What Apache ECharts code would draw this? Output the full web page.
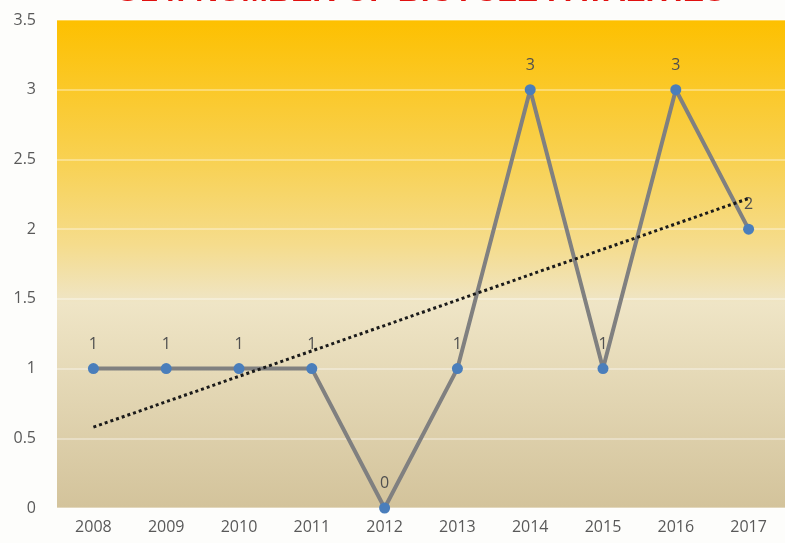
<!DOCTYPE html>
<html>
<head>
<meta charset="utf-8">
<title>Bicycle fatalities</title>
<script src="https://cdn.jsdelivr.net/npm/echarts@6/dist/echarts.min.js"></script>
</head>
<body style="margin:0;background:#fdfdfb;">
<div id="main" style="width:785px;height:543px;"></div>
<script>
    // data
    var years = ['2008', '2009', '2010', '2011', '2012', '2013', '2014', '2015', '2016', '2017'];
    var fatalities = [1, 1, 1, 1, 0, 1, 3, 1, 3, 2];
    // linear trend, only the two ends are drawn
    var trend = [0.58, null, null, null, null, null, null, null, null, 2.22];

    var labelColor = '#595959';
    var myChart = echarts.init(document.getElementById('main'));
    myChart.setOption({
        backgroundColor: '#fdfdfb',
        title: {
            text: 'G14: NUMBER OF BICYCLE FATALITIES',
            left: 110,
            top: -29,
            textStyle: {
                color: '#e0100f',
                fontSize: 32,
                fontWeight: 'bold',
                fontFamily: 'Liberation Sans'
            }
        },
        grid: {
            left: 57,
            top: 20,
            width: 734,
            height: 488,
            show: true,
            borderWidth: 0,
            backgroundColor: new echarts.graphic.LinearGradient(0, 0, 0, 1, [
                {offset: 0, color: '#fdc000'},
                {offset: 0.3, color: '#f8d256'},
                {offset: 0.46, color: '#f5dc8c'},
                {offset: 0.58, color: '#efe5c6'},
                {offset: 1, color: '#d3c39b'}
            ])
        },
        xAxis: {
            type: 'category',
            data: years,
            boundaryGap: true,
            axisLine: {show: false},
            axisTick: {show: false},
            axisLabel: {
                color: labelColor,
                fontSize: 16,
                fontFamily: 'Open Sans',
                margin: 11
            }
        },
        yAxis: {
            type: 'value',
            min: 0,
            max: 3.5,
            interval: 0.5,
            axisLine: {show: false},
            axisTick: {show: false},
            axisLabel: {
                color: labelColor,
                fontSize: 16,
                fontFamily: 'Open Sans',
                margin: 21
            },
            splitLine: {
                lineStyle: {color: 'rgba(255,255,255,0.45)', width: 1.5}
            }
        },
        series: [{
            type: 'line',
            data: fatalities,
            symbol: 'circle',
            symbolSize: 11,
            z: 3,
            lineStyle: {color: '#808080', width: 4},
            itemStyle: {color: '#4a7ebb'},
            label: {
                show: true,
                position: 'top',
                distance: 11,
                color: '#505050',
                fontSize: 16,
                fontFamily: 'Open Sans'
            }
        }, {
            type: 'line',
            data: trend,
            connectNulls: true,
            symbol: 'none',
            z: 4,
            silent: true,
            lineStyle: {color: '#1a1a1a', width: 3, type: 'dotted'}
        }]
    });
</script>
</body>
</html>
